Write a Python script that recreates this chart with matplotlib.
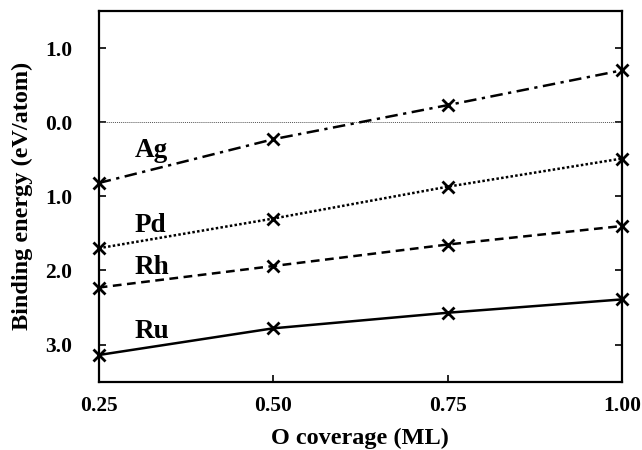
import matplotlib
matplotlib.use("Agg")
import matplotlib.pyplot as plt
from matplotlib.ticker import FixedLocator, FixedFormatter

coverage = [0.25, 0.50, 0.75, 1.00]
ag = [0.82, 0.23, -0.23, -0.70]
pd_ = [1.70, 1.30, 0.87, 0.49]
rh = [2.23, 1.94, 1.65, 1.40]
ru = [3.14, 2.78, 2.57, 2.39]
metals = ["Ag", "Pd", "Rh", "Ru"]
label_pos = [(0.302, 0.47), (0.302, 1.48), (0.302, 2.05), (0.302, 2.91)]
yticks = [-1.0, 0.0, 1.0, 2.0, 3.0]
ytick_labels = ["1.0", "0.0", "1.0", "2.0", "3.0"]
xtick_labels = ["0.25", "0.50", "0.75", "1.00"]

plt.rcParams['font.family'] = ['Liberation Serif', 'DejaVu Serif']
plt.rcParams['font.weight'] = 'bold'

fig = plt.figure(figsize=(6.42, 4.5), dpi=100)
ax = fig.add_axes([98.7/642, 1 - 381.7/450, (622 - 98.7)/642, (381.7 - 11)/450])

ax.axhline(0, color='#555555', lw=0.7, ls=(0, (1, 1)))

styles = [(0, (5, 2.2, 1.3, 2.2)), (0, (1, 0.9)), (0, (3.5, 2.2)), '-']
for vals, ls in zip([ag, pd_, rh, ru], styles):
    ax.plot(coverage, vals, color='black', lw=1.8, ls=ls, marker='x',
            markersize=9, markeredgewidth=2, clip_on=False, zorder=3)

for name, (x, y) in zip(metals, label_pos):
    ax.text(x, y, name, fontsize=19.5, fontweight='bold', va='baseline', ha='left')

ax.set_xlim(0.25, 1.00)
ax.set_ylim(3.5, -1.5)
ax.xaxis.set_major_locator(FixedLocator(coverage))
ax.xaxis.set_major_formatter(FixedFormatter(xtick_labels))
ax.yaxis.set_major_locator(FixedLocator(yticks))
ax.yaxis.set_major_formatter(FixedFormatter(ytick_labels))
ax.tick_params(axis='both', direction='in', length=5, width=1.2, labelsize=15.5)
ax.tick_params(axis='y', right=True, pad=19)
ax.tick_params(axis='x', pad=10)
for lab in ax.get_xticklabels() + ax.get_yticklabels():
    lab.set_fontweight('bold')
for s in ax.spines.values():
    s.set_linewidth(1.6)

ax.set_xlabel("O coverage (ML)", fontsize=17.5, fontweight='bold', labelpad=9)
ax.set_ylabel("Binding energy (eV/atom)", fontsize=17.5, fontweight='bold', labelpad=9)

fig.savefig("out.png", dpi=100)
